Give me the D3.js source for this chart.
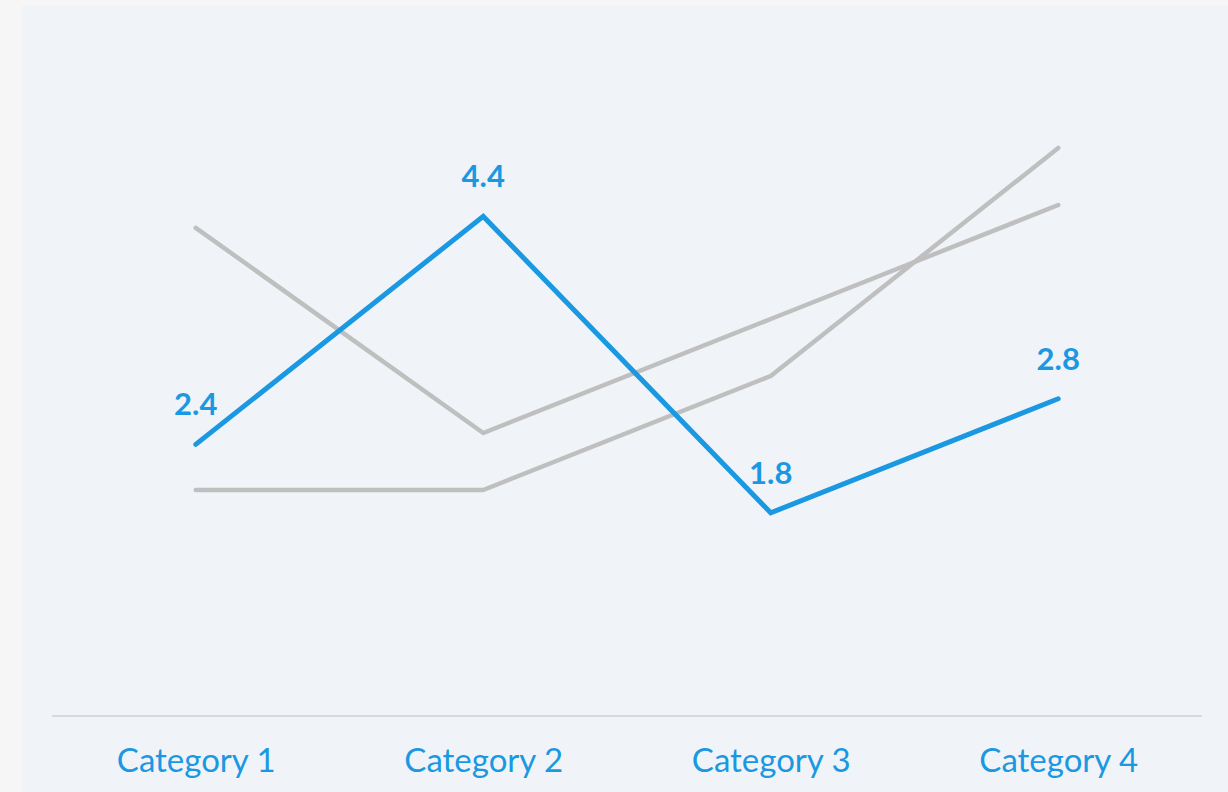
<!DOCTYPE html>
<html>
<head>
<meta charset="utf-8">
<script src="https://cdn.jsdelivr.net/npm/d3@7"></script>
<style>
html,body{margin:0;padding:0;background:#f6f6f6;}
svg{display:block;}
</style>
</head>
<body>
<svg id="chart" width="1228" height="792"></svg>
<script>
const categories = ["Category 1", "Category 2", "Category 3", "Category 4"];
const series1 = [4.3, 2.5, 3.5, 4.5];
const series2 = [2.4, 4.4, 1.8, 2.8];
const series3 = [2, 2, 3, 5];

const svg = d3.select("#chart");
svg.append("rect").attr("x", 22).attr("y", 6).attr("width", 1206).attr("height", 786).attr("fill", "#f0f4f8");

const x = d3.scalePoint().domain(categories).range([52, 1202]).padding(0.5);
const y = d3.scaleLinear().domain([0, 6]).range([718, 34]);

// baseline
svg.append("line").attr("x1", 52).attr("x2", 1202).attr("y1", 716).attr("y2", 716)
  .attr("stroke", "#d9d9d9").attr("stroke-width", 2);

const line = d3.line().x((d, i) => x(categories[i])).y(d => y(d));

[series1, series3].forEach(s => {
  svg.append("path").attr("d", line(s)).attr("fill", "none")
    .attr("stroke", "#bfbfbf").attr("stroke-width", 4.5).attr("stroke-linecap", "round").attr("stroke-linejoin", "round");
});

const blue = "#1a98e2";
svg.append("path").attr("d", line(series2)).attr("fill", "none")
  .attr("stroke", blue).attr("stroke-width", 5).attr("stroke-linecap", "round").attr("stroke-linejoin", "miter");

svg.selectAll("text.val").data(series2).enter().append("text")
  .attr("class", "val")
  .attr("x", (d, i) => x(categories[i]))
  .attr("y", d => y(d) - 29)
  .attr("text-anchor", "middle")
  .attr("font-family", "Lato, 'Open Sans', sans-serif")
  .attr("font-weight", "bold")
  .attr("font-size", 31)
  .attr("fill", blue)
  .text(d => d.toFixed(1));

const xAxis = d3.axisBottom(x).tickSize(0).tickPadding(0);
const gx = svg.append("g").attr("transform", "translate(0,772)").call(xAxis);
gx.select(".domain").remove();
gx.selectAll("text").attr("font-family", "Lato, 'Open Sans', sans-serif").attr("font-size", 33)
  .attr("fill", blue).attr("dy", 0).attr("y", 0);
</script>
</body>
</html>
